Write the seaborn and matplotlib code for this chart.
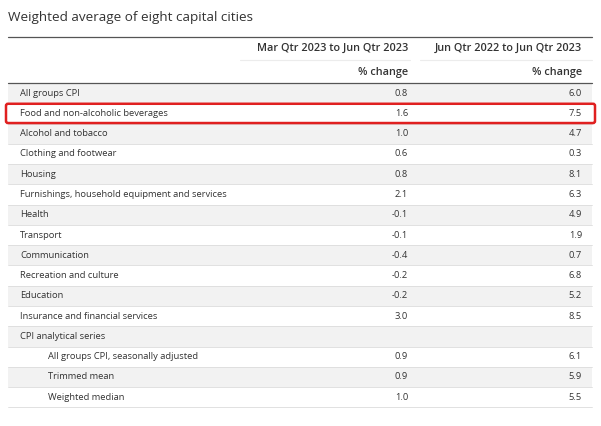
import matplotlib.pyplot as plt
import seaborn as sns
from matplotlib.patches import FancyBboxPatch

sns.set_theme(style="white")
plt.rcParams["font.family"] = ["Open Sans", "DejaVu Sans"]

TITLE = "Weighted average of eight capital cities"
col_headers = ["Mar Qtr 2023 to Jun Qtr 2023", "Jun Qtr 2022 to Jun Qtr 2023"]
unit_label = "% change"

labels = [
    "All groups CPI",
    "Food and non-alcoholic beverages",
    "Alcohol and tobacco",
    "Clothing and footwear",
    "Housing",
    "Furnishings, household equipment and services",
    "Health",
    "Transport",
    "Communication",
    "Recreation and culture",
    "Education",
    "Insurance and financial services",
    "CPI analytical series",
    "All groups CPI, seasonally adjusted",
    "Trimmed mean",
    "Weighted median",
]
quarterly = [0.8, 1.6, 1.0, 0.6, 0.8, 2.1, -0.1, -0.1, -0.4, -0.2, -0.2, 3.0, None, 0.9, 0.9, 1.0]
annual = [6.0, 7.5, 4.7, 0.3, 8.1, 6.3, 4.9, 1.9, 0.7, 6.8, 5.2, 8.5, None, 6.1, 5.9, 5.5]
indented = [False] * 13 + [True] * 3
highlight = "Food and non-alcoholic beverages"

TEXT = "#333333"
STRIPE = "#f2f2f2"
RULE = "#dcdcdc"

fig = plt.figure(figsize=(6.01, 4.26), dpi=100)
ax = fig.add_axes([0, 0, 1, 1])
ax.set_xlim(0, 601)
ax.set_ylim(426, 0)
ax.axis("off")

left, right = 8, 592
col_x = [408, 582]
row_top, row_h = 83, 20.27

# title and header
ax.text(left, 18, TITLE, fontsize=9.7, color=TEXT, va="center", ha="left")
ax.plot([left, right], [37, 37], color="#555555", lw=0.9)
for cx, head in zip(col_x, col_headers):
    ax.text(cx, 48, head, fontsize=7.8, fontweight="semibold", color=TEXT, va="center", ha="right")
    ax.text(cx, 72, unit_label, fontsize=7.8, fontweight="semibold", color=TEXT, va="center", ha="right")
ax.plot([240, 410], [59.5, 59.5], color="#ececec", lw=0.8)
ax.plot([420, right], [59.5, 59.5], color="#ececec", lw=0.8)

# body rows
for i, (lab, q, a) in enumerate(zip(labels, quarterly, annual)):
    top = row_top + i * row_h
    yc = top + row_h / 2
    if i % 2 == 0:
        ax.add_patch(plt.Rectangle((left, top), right - left, row_h, color=STRIPE, lw=0, zorder=0))
    ax.plot([left, right], [top + row_h, top + row_h], color=RULE, lw=0.6, zorder=1)
    ax.text(48 if indented[i] else 20, yc, lab, fontsize=6.75, color=TEXT, va="center", ha="left")
    if q is not None:
        ax.text(col_x[0], yc, f"{q:.1f}", fontsize=6.75, color=TEXT, va="center", ha="right")
        ax.text(col_x[1], yc, f"{a:.1f}", fontsize=6.75, color=TEXT, va="center", ha="right")
    if lab == highlight:
        ax.add_patch(FancyBboxPatch((6, top + 0.5), 589, row_h - 1,
                                    boxstyle="round,pad=0,rounding_size=2",
                                    fill=False, edgecolor="#e02020", lw=1.8, zorder=3))

ax.plot([left, right], [row_top, row_top], color="#555555", lw=0.9, zorder=2)

fig.savefig("out.png", dpi=100)
